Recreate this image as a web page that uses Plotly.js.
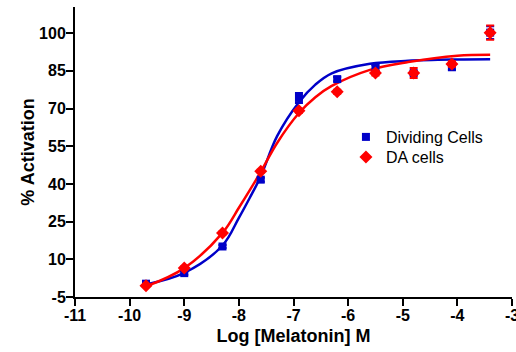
<!DOCTYPE html>
<html>
<head>
<meta charset="utf-8">
<script src="https://cdn.plot.ly/plotly-3.0.1.min.js"></script>
<style>html,body{margin:0;padding:0;background:#fff;}#chart{width:516px;height:352px;}</style>
</head>
<body>
<div id="chart"></div>
<script>
// Measured data points (log molar concentration)
var logConc = [-9.7, -9.0, -8.3, -7.6, -6.9, -6.2, -5.5, -4.8, -4.1, -3.4];
var dividingCells = [0.3, 4.5, 15.1, 41.7, 74.2, 81.7, 86.1, 84.1, 86.7, 100.2];
var dividingErr   = [0.6, 0.6, 0.6, 0.8, 2.0, 0.8, 1.2, 0.8, 1.5, 2.5];
var daCells       = [-0.5, 6.5, 20.5, 45.0, 69.1, 76.7, 84.1, 84.1, 87.7, 100.2];
var daErr         = [0.5, 0.6, 0.6, 0.6, 0.8, 0.8, 1.0, 2.0, 1.1, 2.8];

// Fitted curves
var fitX        = [-9.7, -9.0, -8.3, -8.0, -7.8, -7.6, -7.3, -6.9, -6.6, -6.3, -5.6, -4.9, -4.0, -3.4];
var dividingFit = [0.0, 4.6, 15.5, 26.5, 34.5, 43.0, 59.0, 72.5, 79.5, 84.0, 87.8, 89.0, 89.5, 89.6];
var daFit       = [-0.8, 6.5, 20.5, 30.5, 37.5, 44.8, 56.3, 68.2, 74.5, 79.0, 85.4, 88.5, 91.0, 91.4];

var yTicks = [-5, 10, 25, 40, 55, 70, 85, 100];
var xTicks = [-11, -10, -9, -8, -7, -6, -5, -4, -3];

var BLUE = '#0000C8', RED = '#FF0000';
var FONT = 'Liberation Sans, Arial, sans-serif';
var legendFont = {family: FONT, size: 16, color: '#000'};

var traces = [
  {x: fitX, y: dividingFit, mode: 'lines', line: {color: BLUE, width: 2.5, shape: 'spline'}, showlegend: false, hoverinfo: 'skip'},
  {x: fitX, y: daFit, mode: 'lines', line: {color: RED, width: 2.5, shape: 'spline'}, showlegend: false, hoverinfo: 'skip'},
  {x: logConc, y: dividingCells, name: 'Dividing Cells', mode: 'markers', legend: 'legend',
   marker: {symbol: 'square', size: 8, color: BLUE},
   error_y: {type: 'data', array: dividingErr, visible: true, color: BLUE, thickness: 2, width: 4}},
  {x: logConc, y: daCells, name: 'DA cells', mode: 'markers', legend: 'legend2',
   marker: {symbol: 'diamond', size: 10, color: RED},
   error_y: {type: 'data', array: daErr, visible: true, color: RED, thickness: 2, width: 4}}
];

var layout = {
  width: 516, height: 352,
  margin: {l: 75, r: 4, t: 7, b: 55},
  paper_bgcolor: '#fff', plot_bgcolor: '#fff',
  showlegend: true,
  legend: {x: 0.62, y: (297 - 137) / 290, xanchor: 'left', yanchor: 'middle', bgcolor: 'rgba(0,0,0,0)',
           font: legendFont, borderwidth: 0},
  legend2: {x: 0.62, y: (297 - 157) / 290, xanchor: 'left', yanchor: 'middle', bgcolor: 'rgba(0,0,0,0)',
           font: legendFont, borderwidth: 0},
  xaxis: {
    range: [-11, -3], tickvals: xTicks, ticktext: xTicks.map(String),
    showgrid: false, zeroline: false, showline: true, linecolor: '#000', linewidth: 2,
    ticks: 'outside', ticklen: 7, tickwidth: 2, tickcolor: '#000',
    ticklabeloverflow: 'allow', ticklabelstandoff: -4,
    tickfont: {family: FONT, size: 16, color: '#000', weight: 'bold'},
    title: {text: 'Log [Melatonin] M', font: {family: FONT, size: 18, color: '#000', weight: 'bold'}, standoff: 6}
  },
  yaxis: {
    range: [-5, 110.4], tickvals: yTicks, ticktext: yTicks.map(String),
    showgrid: false, zeroline: false, showline: true, linecolor: '#000', linewidth: 2,
    ticks: 'outside', ticklen: 7, tickwidth: 2, tickcolor: '#000',
    ticklabelstandoff: -3,
    tickfont: {family: FONT, size: 16, color: '#000', weight: 'bold'},
    title: {text: '% Activation', font: {family: FONT, size: 18, color: '#000', weight: 'bold'}, standoff: 0}
  }
};

Plotly.newPlot('chart', traces, layout, {displayModeBar: false, staticPlot: true});
</script>
</body>
</html>
